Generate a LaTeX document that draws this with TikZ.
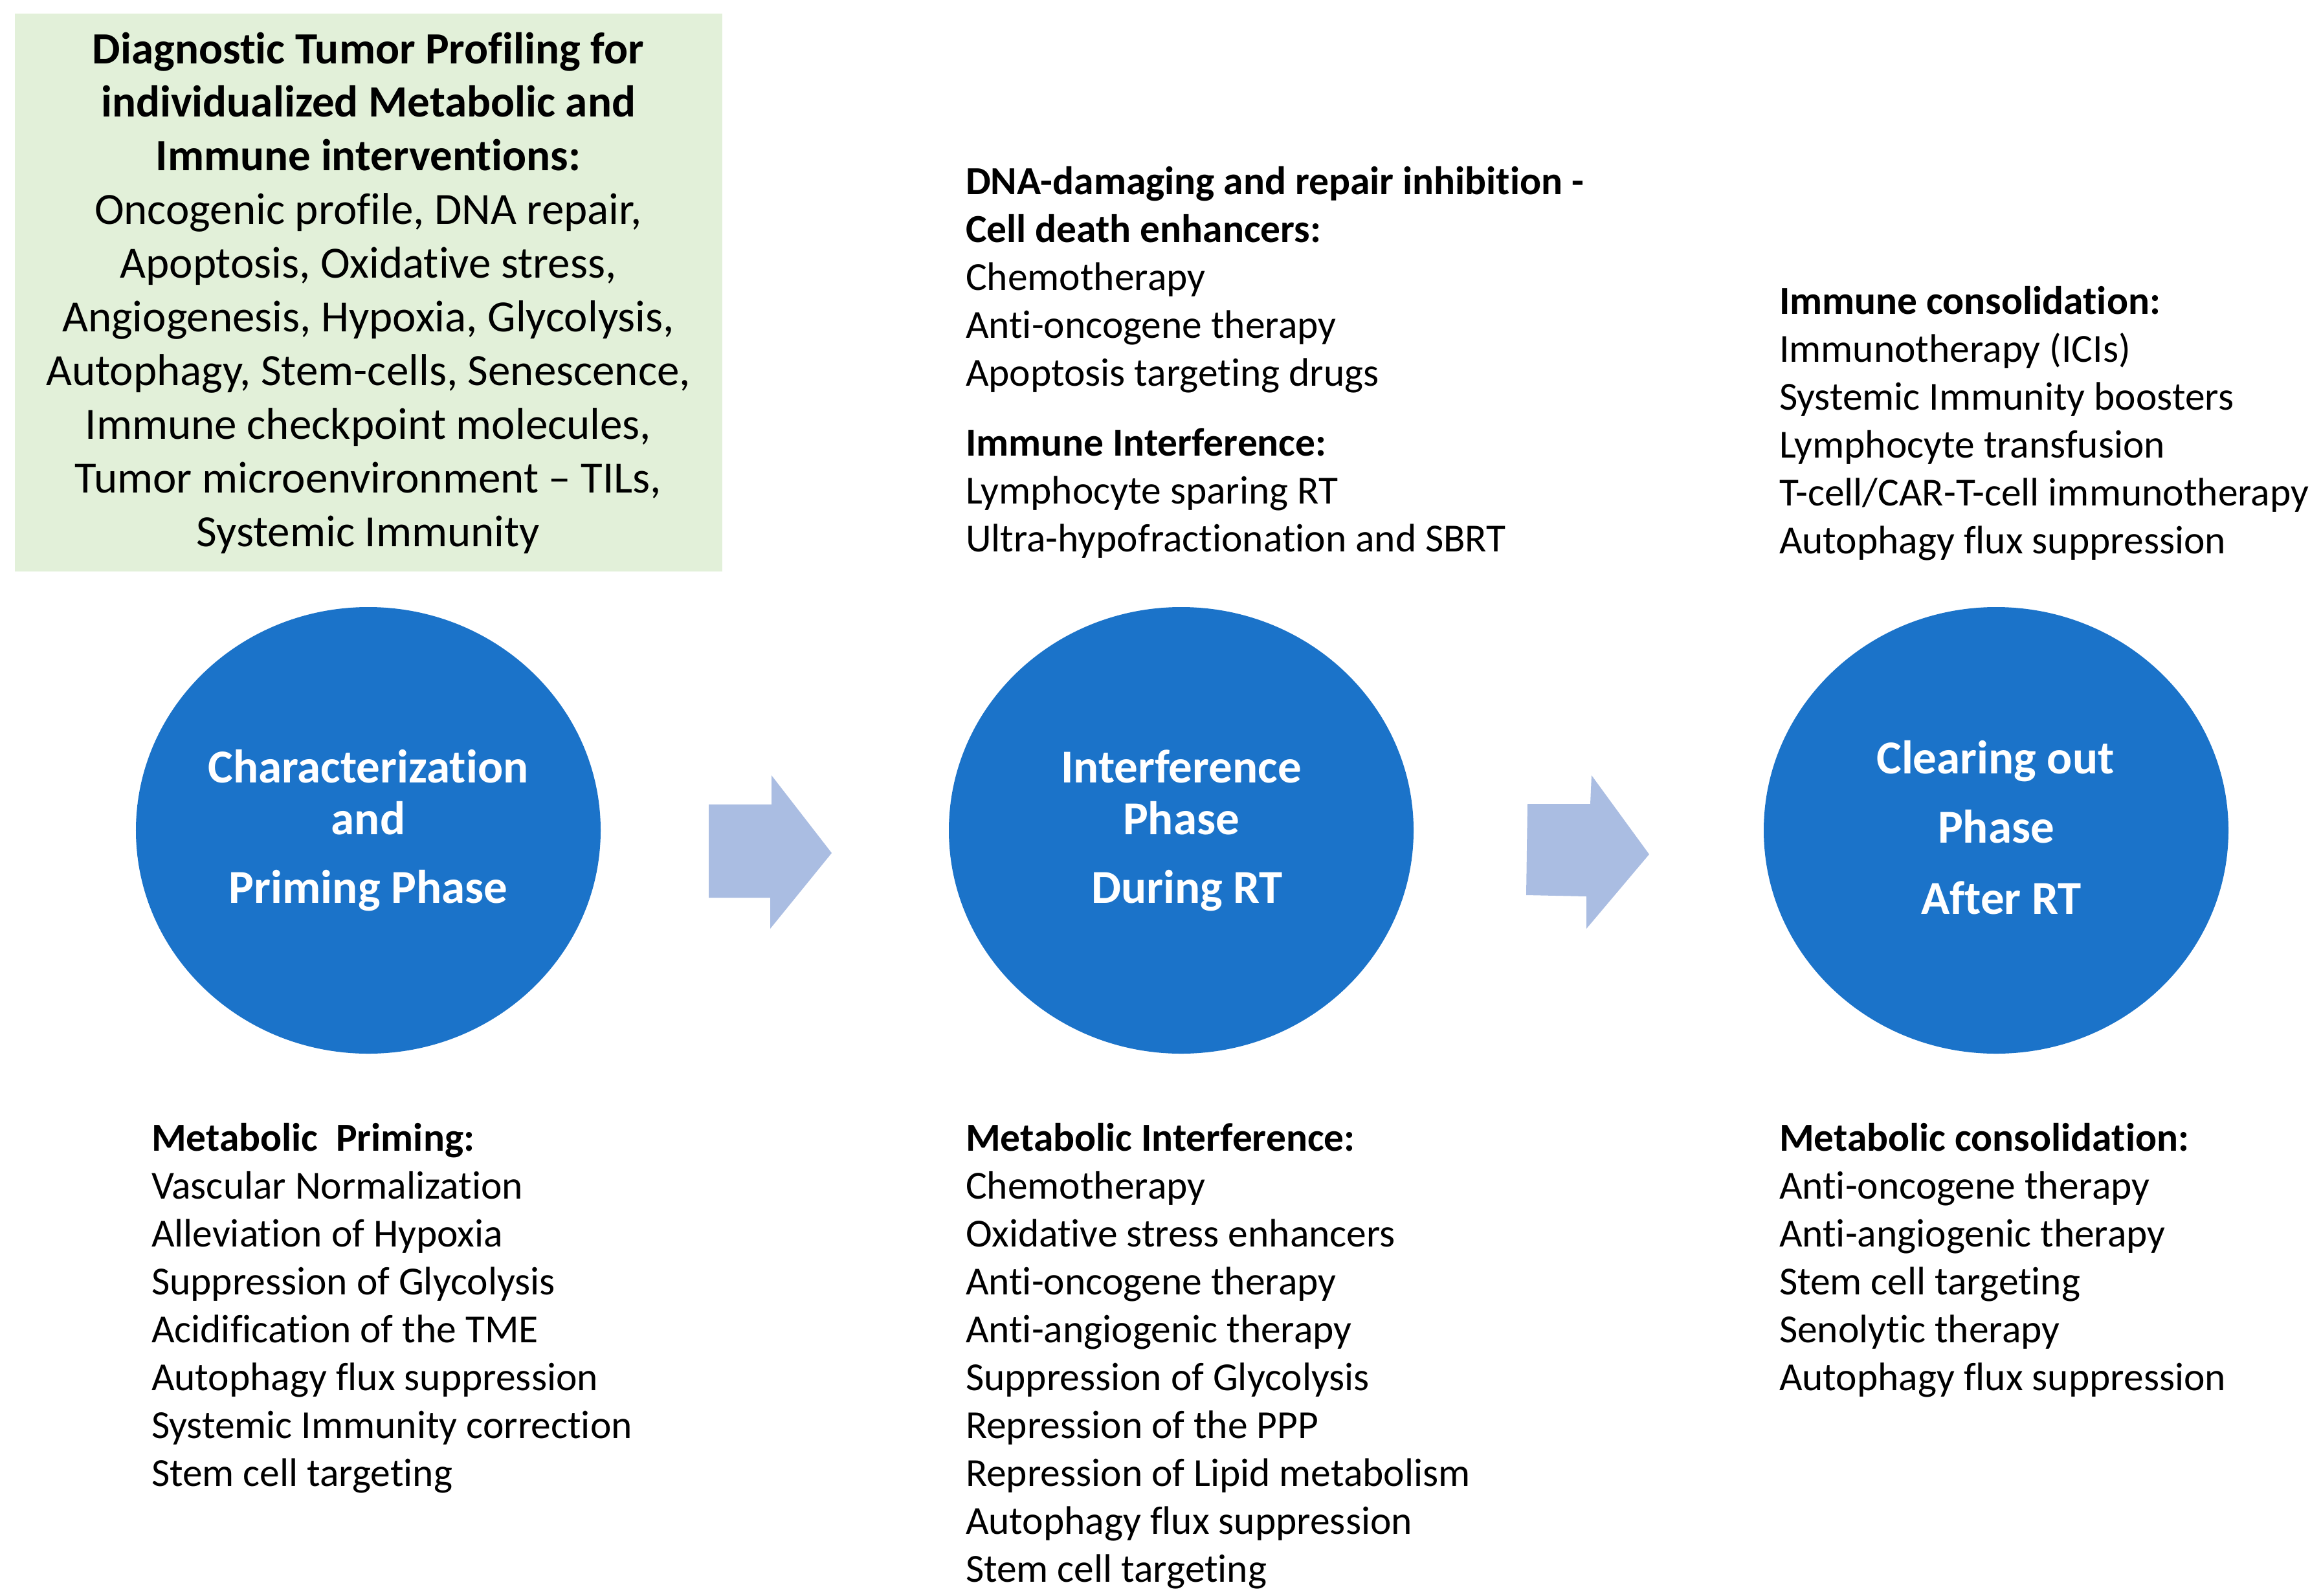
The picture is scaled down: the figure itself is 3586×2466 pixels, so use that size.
\documentclass[tikz,border=0pt]{standalone}
\usepackage{fontspec}
\setmainfont{Carlito}[Ligatures=NoCommon]
\usetikzlibrary{shapes.geometric}
\definecolor{boxgreen}{HTML}{E2F0D9}
\definecolor{circblue}{RGB}{27,115,201}
\definecolor{arrblue}{HTML}{AABDE2}
\begin{document}
\begin{tikzpicture}[x=0.2pt,y=-0.2pt,
  listtext/.style={anchor=base west,inner sep=0pt,font=\fontsize{12.3}{14.8}\selectfont},
  listhead/.style={listtext,font=\fontsize{12.3}{14.8}\selectfont\bfseries},
  boxtext/.style={anchor=base,inner sep=0pt,font=\fontsize{13.8}{16.6}\selectfont},
  boxhead/.style={boxtext,font=\fontsize{13.8}{16.6}\selectfont\bfseries},
  phase/.style={ellipse,fill=circblue,inner sep=0pt,minimum width=143.6pt,minimum height=138pt},
  phasetext/.style={anchor=base,inner sep=0pt,text=white,font=\fontsize{14.6}{17}\selectfont\bfseries},
  blockarrow/.style={fill=arrblue}]
\useasboundingbox (0,0) rectangle (3586,2466);
\fill[white] (0,0) rectangle (3586,2466);

% diagnostic box
\node[fill=boxgreen,inner sep=0pt,minimum width=218.6pt,minimum height=172.4pt] (diag) at (569.5,452) {};
\foreach \t [count=\i from 0] in {Diagnostic Tumor Profiling for,individualized Metabolic and,Immune interventions:}
  \node[boxhead] (dh\i) at (569,{98+82.9*\i}) {\t};
\foreach \t [count=\i from 3] in {{Oncogenic profile, DNA repair,},{Apoptosis, Oxidative stress,},{Angiogenesis, Hypoxia, Glycolysis,},{Autophagy, Stem-cells, Senescence,},{Immune checkpoint molecules,},{Tumor microenvironment – TILs,},{Systemic Immunity}}
  \node[boxtext] (dt\i) at (569,{98+82.9*\i}) {\t};

% phase circles
\node[phase] (c1) at (569,1283) {};
\node[phase] (c2) at (1825,1283) {};
\node[phase] (c3) at (3084,1283) {};
\node[phasetext] (c1a) at (569,1209) {Characterization};
\node[phasetext] (c1b) at (569,1289) {and};
\node[phasetext] (c1c) at (569,1395) {Priming Phase};
\node[phasetext] (c2a) at (1825,1209) {Interference};
\node[phasetext] (c2b) at (1825,1289) {Phase};
\node[phasetext] (c2c) at (1834,1395) {During RT};
\node[phasetext] (c3a) at (3083,1195) {Clearing out};
\node[phasetext] (c3b) at (3084,1302) {Phase};
\node[phasetext] (c3c) at (3092,1412) {After RT};

% block arrows
\fill[blockarrow] (1095,1243) -- (1192,1243) -- (1192,1198) -- (1285,1318) -- (1190,1435) -- (1190,1387) -- (1095,1387) -- cycle;
\fill[blockarrow] (2360,1242) -- (2457,1242) -- (2459,1198) -- (2548,1320) -- (2451,1435) -- (2451,1385) -- (2358,1383) -- cycle;

% top middle text
\node[listhead] (tm0) at (1491,300) {DNA-damaging and repair inhibition -};
\node[listhead] (tm1) at (1491,374) {Cell death enhancers:};
\foreach \t [count=\i from 2] in {Chemotherapy,Anti-oncogene therapy,Apoptosis targeting drugs}
  \node[listtext] (tm\i) at (1491,{300+74.1*\i}) {\t};
\node[listhead] (ti0) at (1491,704) {Immune Interference:};
\foreach \t [count=\i] in {Lymphocyte sparing RT,Ultra-hypofractionation and SBRT}
  \node[listtext] (ti\i) at (1491,{704+74.1*\i}) {\t};

% top right text
\node[listhead] (tr0) at (2748,485) {Immune consolidation:};
\foreach \t [count=\i] in {Immunotherapy (ICIs),Systemic Immunity boosters,Lymphocyte transfusion,T-cell/CAR-T-cell immunotherapy,Autophagy flux suppression}
  \node[listtext] (tr\i) at (2748,{485+74.1*\i}) {\t};

% bottom left text
\node[listhead] (bl0) at (233,1778) {Metabolic\ \ Priming:};
\foreach \t [count=\i] in {Vascular Normalization,Alleviation of Hypoxia,Suppression of Glycolysis,Acidification of the TME,Autophagy flux suppression,Systemic Immunity correction,Stem cell targeting}
  \node[listtext] (bl\i) at (233,{1778+74.1*\i}) {\t};

% bottom middle text
\node[listhead] (bm0) at (1491,1778) {Metabolic Interference:};
\foreach \t [count=\i] in {Chemotherapy,Oxidative stress enhancers,Anti-oncogene therapy,Anti-angiogenic therapy,Suppression of Glycolysis,Repression of the PPP,Repression of Lipid metabolism,Autophagy flux suppression,Stem cell targeting}
  \node[listtext] (bm\i) at (1491,{1778+74.1*\i}) {\t};

% bottom right text
\node[listhead] (br0) at (2748,1778) {Metabolic consolidation:};
\foreach \t [count=\i] in {Anti-oncogene therapy,Anti-angiogenic therapy,Stem cell targeting,Senolytic therapy,Autophagy flux suppression}
  \node[listtext] (br\i) at (2748,{1778+74.1*\i}) {\t};
\end{tikzpicture}
\end{document}
